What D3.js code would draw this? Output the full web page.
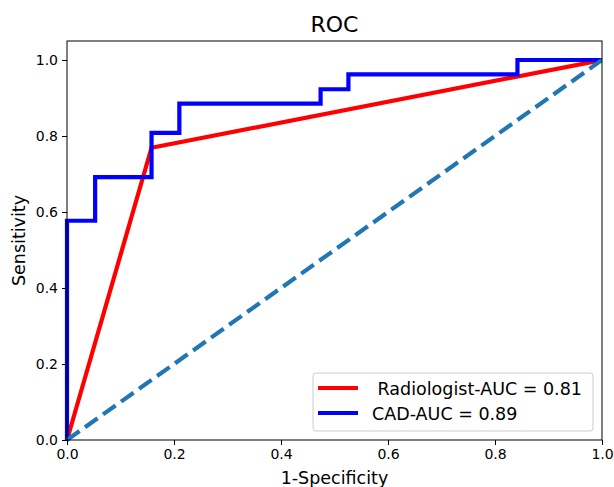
<!DOCTYPE html>
<html>
<head>
<meta charset="utf-8">
<script src="https://cdn.jsdelivr.net/npm/d3@7"></script>
<style>
  body { margin: 0; background: #fff; }
  svg { font-family: "DejaVu Sans", sans-serif; }
</style>
</head>
<body>
<svg width="614" height="487"></svg>
<script>
  // ROC points (false positive rate, true positive rate)
  const radFpr = [0, 0.158, 1];
  const radTpr = [0, 0.769, 1];

  const cadFpr = [0, 0, 0.0526, 0.0526, 0.158, 0.158, 0.21, 0.21, 0.474, 0.474, 0.526, 0.526, 0.842, 0.842, 1];
  const cadTpr = [0, 0.577, 0.577, 0.692, 0.692, 0.808, 0.808, 0.885, 0.885, 0.923, 0.923, 0.962, 0.962, 1, 1];

  const chanceFpr = [0, 1];
  const chanceTpr = [0, 1];

  const seriesNames = [" Radiologist-AUC = 0.81", "CAD-AUC = 0.89"];
  const seriesColors = ["#ff0000", "#0000ff"];
  const ticks = [0, 0.2, 0.4, 0.6, 0.8, 1.0];

  const svg = d3.select("svg");
  const margin = { top: 41, right: 12, bottom: 47, left: 67 };
  const width = +svg.attr("width");
  const height = +svg.attr("height");
  const innerWidth = width - margin.left - margin.right;
  const innerHeight = height - margin.top - margin.bottom;

  const xScale = d3.scaleLinear().domain([0, 1]).range([0, innerWidth]);
  const yScale = d3.scaleLinear().domain([0, 1.05]).range([innerHeight, 0]);

  const g = svg.append("g").attr("transform", `translate(${margin.left},${margin.top})`);

  const toPoints = (xs, ys) => xs.map((x, i) => [x, ys[i]]);
  const line = d3.line().x((d) => xScale(d[0])).y((d) => yScale(d[1]));

  g.append("clipPath").attr("id", "clip")
    .append("rect").attr("x", -3).attr("y", 0).attr("width", innerWidth + 3).attr("height", innerHeight + 3);

  const plot = g.append("g").attr("clip-path", "url(#clip)");

  plot.append("path")
    .attr("d", line(toPoints(radFpr, radTpr)))
    .attr("fill", "none")
    .attr("stroke", seriesColors[0])
    .attr("stroke-width", 4.2);

  plot.append("path")
    .attr("d", line(toPoints(cadFpr, cadTpr)))
    .attr("fill", "none")
    .attr("stroke", seriesColors[1])
    .attr("stroke-width", 4.2);

  plot.append("path")
    .attr("d", line(toPoints(chanceFpr, chanceTpr)))
    .attr("fill", "none")
    .attr("stroke", "#1f77b4")
    .attr("stroke-width", 4.2)
    .attr("stroke-dasharray", "15.4,6.7");

  // frame
  g.append("rect")
    .attr("width", innerWidth)
    .attr("height", innerHeight)
    .attr("fill", "none")
    .attr("stroke", "#000")
    .attr("stroke-width", 1);

  const xAxis = d3.axisBottom(xScale).tickValues(ticks).tickFormat(d3.format(".1f")).tickSize(5).tickPadding(4);
  const yAxis = d3.axisLeft(yScale).tickValues(ticks).tickFormat(d3.format(".1f")).tickSize(5).tickPadding(4);

  const xAxisG = g.append("g").attr("transform", `translate(0,${innerHeight})`).call(xAxis);
  const yAxisG = g.append("g").call(yAxis);
  [xAxisG, yAxisG].forEach((a) => {
    a.select(".domain").remove();
    a.attr("font-size", 14).attr("font-family", "DejaVu Sans, sans-serif");
    a.selectAll(".tick text").attr("fill", "#000");
    a.selectAll(".tick line").attr("stroke", "#000");
  });

  g.append("text")
    .attr("x", innerWidth / 2)
    .attr("y", innerHeight + 44)
    .attr("text-anchor", "middle")
    .attr("font-size", 17.5)
    .text("1-Specificity");

  g.append("text")
    .attr("transform", `translate(-42,${innerHeight / 2}) rotate(-90)`)
    .attr("text-anchor", "middle")
    .attr("font-size", 17.5)
    .text("Sensitivity");

  g.append("text")
    .attr("x", innerWidth / 2)
    .attr("y", -9)
    .attr("text-anchor", "middle")
    .attr("font-size", 22)
    .text("ROC");

  // legend
  const legend = g.append("g").attr("transform", `translate(${313 - margin.left},${373 - margin.top})`);
  legend.append("rect")
    .attr("width", 280)
    .attr("height", 58)
    .attr("rx", 3)
    .attr("fill", "#fff")
    .attr("fill-opacity", 0.8)
    .attr("stroke", "#cccccc");

  seriesNames.forEach((name, i) => {
    const row = legend.append("g").attr("transform", `translate(0,${15 + i * 25})`);
    row.append("line")
      .attr("x1", 5).attr("x2", 45)
      .attr("stroke", seriesColors[i])
      .attr("stroke-width", 4.2);
    row.append("text")
      .attr("x", 59)
      .attr("y", 6.5)
      .attr("font-size", 17.5)
      .style("white-space", "pre")
      .text(name);
  });
</script>
</body>
</html>
